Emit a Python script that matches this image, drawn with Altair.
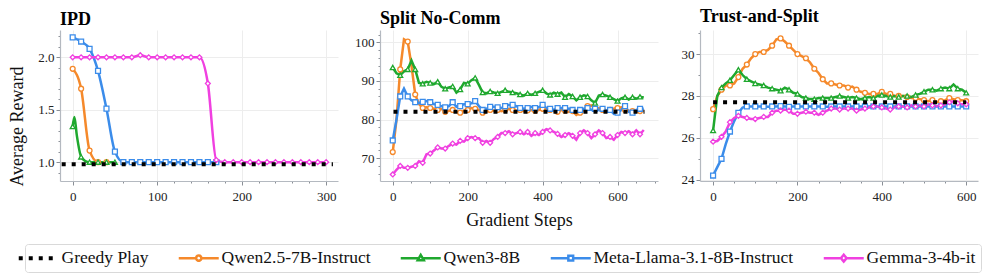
import altair as alt
import pandas as pd

FONT = "Liberation Serif"
SERIES = ["Greedy Play", "Qwen2.5-7B-Instruct", "Qwen3-8B",
          "Meta-Llama-3.1-8B-Instruct", "Gemma-3-4b-it"]
COLORS = ["#000000", "#F5892B", "#1FA82E", "#3B8CEA", "#F040E0"]
MODELS = SERIES[1:]
SHAPES = ["circle", "triangle-up", "square", "diamond"]
PANELS = ["IPD", "Split No-Comm", "Trust-and-Split"]

# ---------------- IPD ----------------
ipd_steps_qwen25 = [0, 10, 20, 30, 40]
ipd_qwen25 = [1.89, 1.70, 1.11, 1.0, 1.0]
ipd_steps_qwen3 = [0, 2, 5, 10, 15, 20, 30, 40, 50]
ipd_qwen3 = [1.34, 1.43, 1.25, 1.05, 1.01, 1.0, 1.0, 1.0, 1.0]
ipd_steps_llama = [0, 10, 20, 30, 40, 50, 60, 70, 80, 90, 100, 110, 120, 130,
                   140, 150, 160, 170]
ipd_llama = [2.19, 2.15, 2.08, 1.87, 1.51, 1.10, 1.0, 1.0, 1.0, 1.0, 1.0, 1.0,
             1.0, 1.0, 1.0, 1.0, 1.0, 1.0]
ipd_steps_gemma = [0, 10, 20, 30, 40, 50, 60, 70, 80, 90, 100, 110, 120, 130,
                   140, 150, 160, 170, 180, 190, 200, 210, 220, 230, 240, 250,
                   260, 270, 280, 290, 300]
ipd_gemma = [2.0, 2.0, 2.0, 2.0, 2.0, 2.0, 2.0, 2.0, 2.02, 2.0, 2.0, 2.0, 2.0,
             2.0, 2.0, 2.0, 1.75, 1.02, 1.0, 1.0, 1.0, 1.0, 1.0, 1.0, 1.0, 1.0,
             1.0, 1.0, 1.0, 1.0, 1.0]

# ---------------- Split No-Comm (steps 0..670 by 10) ----------------
split_steps = [0, 10, 20, 30, 40, 50, 60, 70, 80, 90, 100, 110, 120, 130, 140,
               150, 160, 170, 180, 190, 200, 210, 220, 230, 240, 250, 260, 270,
               280, 290, 300, 310, 320, 330, 340, 350, 360, 370, 380, 390, 400,
               410, 420, 430, 440, 450, 460, 470, 480, 490, 500, 510, 520, 530,
               540, 550, 560, 570, 580, 590, 600, 610, 620, 630, 640, 650, 660,
               670]
split_qwen25 = [71.6, 80, 93, 100.8, 100.2, 94, 86.5, 84, 83, 83.2,
                83, 82.8, 82.5, 82.8, 82, 82.3, 82.5, 82, 81.8, 82.3,
                82.5, 83, 82.8, 82.5, 81.8, 82, 82.5, 82.3, 82.5, 82.2,
                82.5, 82.8, 82.5, 82.3, 82.5, 82.2, 82.4, 82.5, 82.3, 82.5,
                82.8, 82.3, 82.5, 82.2, 82, 82.5, 82.3, 82, 82.2, 81.2,
                81.8, 82.5, 83.5, 83.7, 82.8, 83, 82.5, 82.3, 82.5, 82.8,
                83, 83.2, 82.5, 82.3, 82.2, 82.3, 82.2, 82.3]
split_qwen3 = [93.5, 92, 91.5, 92.5, 93, 95.3, 93, 89.5, 89.3, 89.8,
               89.5, 89.2, 89.8, 88.5, 88, 88.3, 88.6, 87, 87.8, 89.5,
               89.3, 90.2, 90.8, 89, 87, 86.8, 87.3, 87, 86.8, 87.2,
               87.6, 87.2, 87, 86.8, 86.5, 86.2, 86.8, 86.4, 86.8, 87.2,
               87.6, 86.8, 86.4, 87, 86.6, 87, 85.8, 86.6, 86, 85,
               85.8, 86.3, 86, 85, 84.3, 86.2, 86.5, 86.2, 85.8, 85.3,
               84.8, 85.5, 85.8, 85.2, 85.8, 85.4, 85.9, 85.7]
split_llama = [74.6, 80, 86, 88, 86, 85, 84.5, 84.3, 84.6, 84.8,
               84.5, 84, 83.8, 83.5, 83.2, 83.5, 84.5, 83.3, 83.5, 84,
               84, 84.2, 84.8, 83.5, 82.5, 82.8, 83.3, 83.3, 83.2, 83,
               83.5, 83.8, 83.8, 83.5, 83, 82.8, 83, 83.3, 83, 83.2,
               83.8, 83, 82.8, 82.5, 83, 83, 83, 82.8, 82.5, 82,
               82.5, 82.8, 83, 82.5, 82.8, 82.5, 82.8, 82.3, 82.5, 81.5,
               81.8, 82.5, 83.5, 82, 81.8, 82.5, 82.8, 82.8]
split_gemma = [65.8, 67, 68, 67.5, 67.5, 67.8, 68, 69.2, 68.8, 71,
               71.2, 72, 72.8, 72.5, 72.5, 73.2, 73.8, 73.5, 74.5, 74.3,
               75.2, 75.5, 75.2, 75.2, 74, 74.5, 74, 75, 75.5, 76.5,
               76.5, 77, 76.2, 76.5, 76.8, 76.2, 76.8, 75.8, 76.5, 76,
               76.8, 77.5, 77.2, 76.8, 76.3, 75.5, 76, 76.5, 75.8, 74.8,
               76.5, 77.2, 76.5, 75.2, 76.2, 77.2, 76.5, 75.2, 75.5, 74.8,
               76, 76.8, 76.5, 77, 76.2, 77.2, 76.2, 77.3]

# ---------------- Trust-and-Split (steps 0..600 by 10) ----------------
trust_steps = [0, 10, 20, 30, 40, 50, 60, 70, 80, 90, 100, 110, 120, 130, 140,
               150, 160, 170, 180, 190, 200, 210, 220, 230, 240, 250, 260, 270,
               280, 290, 300, 310, 320, 330, 340, 350, 360, 370, 380, 390, 400,
               410, 420, 430, 440, 450, 460, 470, 480, 490, 500, 510, 520, 530,
               540, 550, 560, 570, 580, 590, 600]
trust_qwen25 = [27.37, 28.0, 28.3, 28.5, 28.5, 28.6, 28.9, 29.3, 29.5, 29.8,
                30.0, 30.1, 30.1, 30.2, 30.4, 30.7, 30.75, 30.6, 30.4, 30.2,
                30.0, 29.9, 29.8, 29.6, 29.3, 29.1, 28.8, 28.6, 28.6, 28.55,
                28.5, 28.5, 28.4, 28.45, 28.3, 28.2, 28.15, 28.1, 28.1, 28.1,
                28.2, 28.1, 28.1, 28.0, 28.0, 28.0, 27.95, 27.9, 27.9, 27.85,
                27.8, 27.75, 27.8, 27.7, 27.75, 27.8, 27.9, 27.85, 27.8, 27.8,
                27.75]
trust_qwen3 = [26.35, 28.0, 28.4, 28.6, 28.75, 29.0, 29.25, 29.0, 28.8, 28.7,
               28.6, 28.55, 28.5, 28.4, 28.35, 28.3, 28.25, 28.4, 28.3, 28.15,
               28.1, 27.95, 27.9, 27.85, 27.85, 27.9, 27.9, 27.9, 27.9, 27.95,
               28.0, 27.95, 27.9, 27.95, 27.9, 27.85, 27.9, 27.95, 27.9, 28.0,
               28.05, 28.0, 27.95, 28.0, 27.95, 28.0, 28.0, 27.95, 28.05, 28.1,
               28.2, 28.3, 28.3, 28.25, 28.35, 28.4, 28.35, 28.55, 28.35, 28.3,
               28.15]
trust_llama = [24.2, 24.6, 25.0, 25.7, 26.3, 26.8, 27.2, 27.45, 27.5, 27.5,
               27.5, 27.5, 27.5, 27.48, 27.5, 27.5, 27.52, 27.5, 27.48, 27.5,
               27.5, 27.5, 27.5, 27.5, 27.5, 27.5, 27.5, 27.48, 27.5, 27.5,
               27.5, 27.5, 27.5, 27.5, 27.5, 27.5, 27.5, 27.5, 27.5, 27.5,
               27.5, 27.5, 27.5, 27.5, 27.5, 27.5, 27.5, 27.5, 27.5, 27.5,
               27.5, 27.5, 27.5, 27.5, 27.5, 27.5, 27.5, 27.5, 27.5, 27.5,
               27.5]
trust_gemma = [25.82, 25.85, 26.05, 26.3, 26.75, 26.95, 27.05, 27.0, 26.95, 26.9,
               26.9, 26.95, 27.0, 27.0, 27.2, 27.3, 27.3, 27.35, 27.3, 27.15,
               27.15, 27.2, 27.25, 27.2, 27.2, 27.1, 27.2, 27.3, 27.4, 27.4,
               27.35, 27.4, 27.4, 27.4, 27.3, 27.35, 27.4, 27.45, 27.5, 27.5,
               27.45, 27.4, 27.35, 27.45, 27.5, 27.5, 27.45, 27.55, 27.5, 27.55,
               27.5, 27.6, 27.55, 27.5, 27.55, 27.6, 27.7, 27.75, 27.65, 27.6,
               27.6]

# ---------------- Greedy baseline ----------------
greedy_values = [0.98, 82.0, 27.7]
greedy_start = [-13, 2, 0]
greedy_end = [308, 672, 600]

# ---------------- build tables ----------------
rows = []


def add(panel, series, steps, vals, mark_every):
    for s, v in zip(steps, vals):
        rows.append({"panel": panel, "series": series, "step": s, "value": v,
                     "marker": s % mark_every == 0})


add("IPD", MODELS[0], ipd_steps_qwen25, ipd_qwen25, 10)
add("IPD", MODELS[1], ipd_steps_qwen3, ipd_qwen3, 10)
add("IPD", MODELS[2], ipd_steps_llama, ipd_llama, 10)
add("IPD", MODELS[3], ipd_steps_gemma, ipd_gemma, 10)
for m, vals in zip(MODELS, [split_qwen25, split_qwen3, split_llama, split_gemma]):
    add("Split No-Comm", m, split_steps, vals, 20)
for m, vals in zip(MODELS, [trust_qwen25, trust_qwen3, trust_llama, trust_gemma]):
    add("Trust-and-Split", m, trust_steps, vals, 20)
df = pd.DataFrame(rows)

grows = []
for p, v, a, b in zip(PANELS, greedy_values, greedy_start, greedy_end):
    grows.append({"panel": p, "series": "Greedy Play", "step": a, "value": v})
    grows.append({"panel": p, "series": "Greedy Play", "step": b, "value": v})
gdf = pd.DataFrame(grows)

# ---------------- legend symbols ----------------
P_GREEDY = "M-1,0H1"
P_CIRCLE = ("M-1,0H-0.13M0.13,0H1M0.13,0A0.13,0.13,0,1,1,-0.13,0"
            "A0.13,0.13,0,1,1,0.13,0")
P_TRI = "M-1,0H-0.1M0.1,0H1M0,-0.16L0.15,0.1L-0.15,0.1Z"
P_SQUARE = "M-1,0H-0.12M0.12,0H1M-0.12,-0.12H0.12V0.12H-0.12Z"
P_DIAMOND = "M-1,0H-0.14M0.14,0H1M0,-0.17L0.14,0L0,0.17L-0.14,0Z"


def is_(name):
    return f"datum.value === '{name}'"


shape_expr = (f"{is_(SERIES[0])} ? '{P_GREEDY}' : "
              f"{is_(SERIES[1])} ? '{P_CIRCLE}' : "
              f"{is_(SERIES[2])} ? '{P_TRI}' : "
              f"{is_(SERIES[3])} ? '{P_SQUARE}' : '{P_DIAMOND}'")
dash_expr = f"{is_(SERIES[0])} ? [4, 6] : [1, 0]"
width_expr = f"{is_(SERIES[0])} ? 4 : 2.5"

legend = alt.Legend(
    title=None, orient="none", legendX=-35, legendY=214, direction="horizontal",
    columns=5, labelFont=FONT, labelFontSize=17.5, labelColor="#111111",
    labelLimit=400,
    symbolSize=1600, labelOffset=14, columnPadding=24, padding=5,
    strokeColor="#d9d9d9", cornerRadius=3, fillColor="white",
    symbolType=alt.ExprRef(expr=shape_expr),
    symbolDash=alt.ExprRef(expr=dash_expr),
    symbolStrokeWidth=alt.ExprRef(expr=width_expr),
    symbolFillColor="white", symbolOpacity=1,
)

color = alt.Color("series:N", scale=alt.Scale(domain=SERIES, range=COLORS),
                  legend=legend)
shape = alt.Shape("series:N", scale=alt.Scale(domain=MODELS, range=SHAPES),
                  legend=None)


def cond(test, a, b):
    return {"condition": {"test": test, "value": a}, "value": b}


def panel(name, xdom, ydom, xvals, xmajor, yvals, ymajor, yfmt, interp,
          ytitle=None, xtitle=None):
    x_axis_kw = dict(
        values=xvals, labelExpr=f"({xmajor}) ? datum.label : ''",
        tickSize=cond(xmajor, 4, 2), gridOpacity=cond(xmajor, 1, 0),
        labelOverlap=False, labelFlush=False, format="d", labelPadding=5,
        title=xtitle,
    )
    if xtitle:
        x_axis_kw.update(titleFontSize=18, titleFontWeight="normal",
                         titlePadding=8)
    y_axis_kw = dict(
        values=yvals, labelExpr=f"({ymajor}) ? datum.label : ''",
        tickSize=cond(ymajor, 4, 2), gridOpacity=cond(ymajor, 1, 0),
        labelOverlap=False, labelFlush=False, format=yfmt,
        minExtent=26, maxExtent=26, title=ytitle,
    )
    if ytitle:
        y_axis_kw.update(titleFontSize=18, titleFontWeight="normal",
                         titlePadding=8, titleY=96)
    x = alt.X("step:Q", scale=alt.Scale(domain=xdom, nice=False, zero=False),
              axis=alt.Axis(**x_axis_kw))
    y = alt.Y("value:Q", scale=alt.Scale(domain=ydom, nice=False, zero=False),
              axis=alt.Axis(**y_axis_kw))
    base = alt.Chart(df).transform_filter(alt.datum.panel == name)
    lines = base.mark_line(strokeWidth=2.5, interpolate=interp, clip=True).encode(
        x=x, y=y, color=color, detail="series:N")
    pts = base.transform_filter(alt.datum.marker).mark_point(
        filled=False, fill="white", strokeWidth=1.3, size=24, opacity=1,
        clip=True).encode(x=x, y=y, color=color, shape=shape)
    greedy = alt.Chart(gdf).transform_filter(alt.datum.panel == name).mark_line(
        strokeDash=[4, 6], strokeWidth=4, clip=True).encode(x=x, y=y, color=color)
    return alt.layer(lines, pts, greedy).properties(
        width=278, height=151,
        title=alt.TitleParams(text=name, anchor="start", frame="group",
                              font=FONT, fontSize=18, fontWeight="bold",
                              color="#000000", offset=1, limit=300),
    )


p1 = panel("IPD", [-15, 314], [0.82, 2.26],
           [0, 20, 40, 60, 80, 100, 120, 140, 160, 180, 200, 220, 240, 260, 280, 300],
           "datum.value % 100 === 0",
           [0.9, 1.0, 1.1, 1.2, 1.3, 1.4, 1.5, 1.6, 1.7, 1.8, 1.9, 2.0, 2.1, 2.2],
           "abs(datum.value * 2 - round(datum.value * 2)) < 0.001", ".1f",
           "monotone", ytitle="Average Reward")
p2 = panel("Split No-Comm", [-34, 708], [64.1, 103.2],
           [0, 50, 100, 150, 200, 250, 300, 350, 400, 450, 500, 550, 600, 650, 700],
           "datum.value % 200 === 0",
           [66, 68, 70, 72, 74, 76, 78, 80, 82, 84, 86, 88, 90, 92, 94, 96, 98, 100, 102],
           "datum.value % 10 === 0", "d", "linear", xtitle="Gradient Steps")
p3 = panel("Trust-and-Split", [-31, 628], [23.94, 31.15],
           [0, 50, 100, 150, 200, 250, 300, 350, 400, 450, 500, 550, 600],
           "datum.value % 200 === 0",
           [24, 24.5, 25, 25.5, 26, 26.5, 27, 27.5, 28, 28.5, 29, 29.5, 30, 30.5, 31],
           "datum.value % 2 === 0", "d", "linear")

chart = alt.hconcat(p1, p2, p3, spacing=16).properties(
    padding={"left": 0, "top": 0, "right": 5, "bottom": 0}
).configure(font=FONT).configure_view(stroke=None).configure_axis(
    labelFont=FONT, labelFontSize=13, labelColor="#222222",
    titleFont=FONT, titleColor="#111111",
    domainColor="#b4b9c0", tickColor="#8a8f96", domainWidth=1.2,
    gridColor="#ededed", gridWidth=1, labelPadding=2,
)

chart.save("out.html", embed_options={"renderer": "svg", "actions": False})
